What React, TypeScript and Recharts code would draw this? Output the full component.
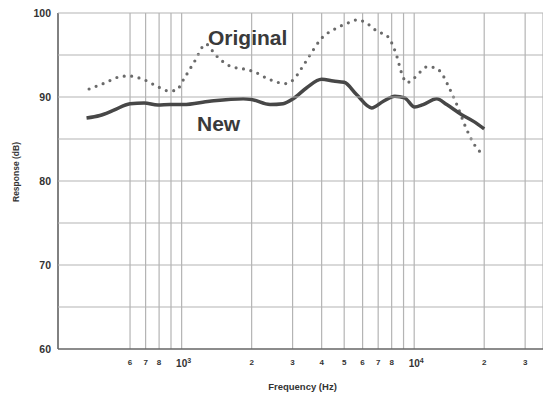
import { LineChart, Line, XAxis, YAxis, CartesianGrid } from 'recharts'

const newFreq = [390, 445, 508, 600, 690, 790, 890, 1016, 1320, 1840, 2000, 2400, 2730, 3020, 3450, 4000, 4490, 5000, 5650, 6560, 7370, 8250, 9100, 10040, 10930, 12500, 13800, 16000, 18000, 20000]
const newDb = [87.5, 87.8, 88.4, 89.2, 89.3, 89.05, 89.1, 89.1, 89.5, 89.8, 89.7, 89.1, 89.2, 89.8, 91.1, 92.1, 91.9, 91.75, 90.3, 88.7, 89.5, 90.1, 89.9, 88.8, 89.1, 89.8, 89.1, 87.9, 87.1, 86.2]

const originalFreq = [400, 470, 540, 590, 690, 800, 870, 940, 1030, 1140, 1270, 1400, 1610, 1870, 2030, 2380, 2800, 3020, 3310, 3620, 4000, 4560, 5290, 5710, 6140, 7060, 7560, 7950, 8410, 8830, 9300, 10040, 11400, 12400, 13100, 14140, 15200, 16600, 17900, 19800]
const originalDb = [90.95, 91.7, 92.4, 92.5, 92.05, 91.15, 90.75, 90.75, 92.3, 94.3, 96.3, 95.0, 93.7, 93.3, 93.05, 92.1, 91.6, 92.05, 93.6, 95.3, 97.0, 98.1, 98.9, 99.2, 98.9, 97.7, 97.4, 96.6, 94.9, 92.85, 91.7, 92.3, 93.6, 93.45, 92.85, 91.1, 89.2, 86.5, 84.6, 83.1]

const freqTicks = [600, 700, 800, 900, 1000, 2000, 3000, 4000, 5000, 6000, 7000, 8000, 9000, 10000, 20000, 30000]
const freqTickLabels = ['6', '7', '8', '', '10^3', '2', '3', '4', '5', '6', '7', '8', '', '10^4', '2', '3']

const dbTicks = [60, 65, 70, 75, 80, 85, 90, 95, 100]
const dbTickLabels = ['60', '', '70', '', '80', '', '90', '', '100']

const newData = newFreq.map((f, i) => ({ f, db: newDb[i] }))
const originalData = originalFreq.map((f, i) => ({ f, db: originalDb[i] }))

const font = '"Liberation Sans", Arial, sans-serif'
const gridColor = '#b4b4b4'

function FreqTick(props: any) {
  const { x, y, payload } = props
  const label = freqTickLabels[freqTicks.indexOf(payload.value)]
  if (!label) return null
  if (label.startsWith('10^')) {
    return (
      <text x={x + 2} y={y + 18} textAnchor="middle" fontSize={10} fontWeight="bold" fill="#333" fontFamily={font}>
        <tspan>10</tspan>
        <tspan dy={-4} fontSize={7}>{label.slice(3)}</tspan>
      </text>
    )
  }
  return (
    <text x={x} y={y + 16} textAnchor="middle" fontSize={8} fontWeight="bold" fill="#333" fontFamily={font}>
      {label}
    </text>
  )
}

// y tick also draws its own horizontal grid line across the plot
function DbTick(props: any) {
  const { y, payload } = props
  const label = dbTickLabels[dbTicks.indexOf(payload.value)]
  return (
    <g>
      {payload.value !== 60 && <line x1={58} x2={543} y1={y} y2={y} stroke={gridColor} strokeWidth={1.2} />}
      {label && (
        <text x={51} y={y + 4} textAnchor="end" fontSize={10.5} fontWeight="bold" fill="#333" fontFamily={font}>
          {label}
        </text>
      )}
    </g>
  )
}

export default function App() {
  return (
    <div style={{ position: 'absolute', left: 0, top: 0, width: 543, height: 397, background: '#fff', fontFamily: font, overflow: 'hidden' }}>
      <LineChart width={543} height={397} margin={{ top: 13, right: 0, bottom: 0, left: 0 }}>
        <CartesianGrid stroke={gridColor} strokeWidth={1.2} horizontal={false} />
        <XAxis
          dataKey="f"
          type="number"
          scale="log"
          domain={[294, 35800]}
          allowDataOverflow
          ticks={freqTicks}
          interval={0}
          tick={<FreqTick />}
          tickLine={false}
          tickSize={0}
          tickMargin={0}
          height={48}
          stroke="#666"
          strokeWidth={1.5}
        />
        <YAxis
          type="number"
          domain={[60, 100]}
          ticks={dbTicks}
          interval={0}
          tick={<DbTick />}
          tickLine={false}
          tickSize={0}
          width={58}
          stroke="#666"
          strokeWidth={1.5}
        />
        <Line
          data={originalData}
          dataKey="db"
          type="monotone"
          stroke="#6a6a6a"
          strokeWidth={3.2}
          strokeDasharray="0 7.5"
          strokeLinecap="round"
          dot={false}
          isAnimationActive={false}
        />
        <Line
          data={newData}
          dataKey="db"
          type="monotone"
          stroke="#474747"
          strokeWidth={3.5}
          dot={false}
          isAnimationActive={false}
        />
      </LineChart>
      <div style={{ position: 'absolute', left: 208, top: 26, fontSize: 21, fontWeight: 'bold', color: '#3a3a3a', lineHeight: '24px' }}>Original</div>
      <div style={{ position: 'absolute', left: 197, top: 112, fontSize: 21, fontWeight: 'bold', color: '#3a3a3a', lineHeight: '24px' }}>New</div>
      <div style={{ position: 'absolute', left: 0, width: 605, top: 381, textAlign: 'center', fontSize: 9.5, fontWeight: 'bold', color: '#333' }}>Frequency (Hz)</div>
      <div style={{ position: 'absolute', left: 16, top: 172, width: 0, height: 0 }}>
        <div style={{ position: 'absolute', left: -50, top: -6, width: 100, textAlign: 'center', fontSize: 8.5, fontWeight: 'bold', color: '#333', transform: 'rotate(-90deg)', lineHeight: '12px' }}>Response (dB)</div>
      </div>
    </div>
  )
}
